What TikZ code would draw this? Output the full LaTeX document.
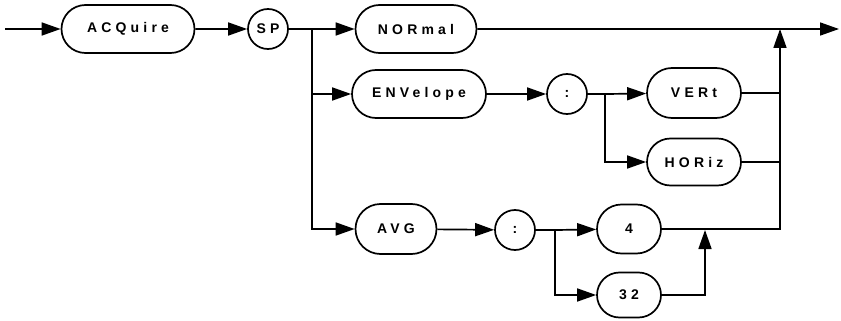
\documentclass[tikz,border=0pt]{standalone}
\usepackage{fontspec}
\newfontfamily\hpfont[LetterSpace=30]{Liberation Sans}
\usetikzlibrary{arrows.meta,shapes.misc}

\begin{document}
\begin{tikzpicture}[
    x=1pt, y=-1pt,
    line width=1.7pt,
    font=\hpfont\bfseries\fontsize{14}{16}\selectfont,
    kw/.style={draw, rounded rectangle, minimum height=48pt, inner sep=2pt},
    sep/.style={draw, circle, minimum size=40pt, inner sep=0pt},
    arr/.style={-{Triangle[length=19pt, width=13pt]}}
]
\useasboundingbox (0,0) rectangle (841,321);
% keywords
\node[kw, minimum width=137pt] (acq) at (128,29) {ACQuire};
\node[sep] (sp) at (268,29) {SP};
\node[kw, minimum width=125pt] (nor) at (416,29) {NORmal};
\node[kw, minimum width=138pt] (env) at (419,94) {ENVelope};
\node[sep] (colenv) at (567,94) {:};
\node[kw, minimum width=98pt, minimum height=50pt] (vert) at (694,93) {VERt};
\node[kw, minimum width=98pt, minimum height=47pt] (hor) at (694,162) {HORiz};
\node[kw, minimum width=85pt, minimum height=50pt] (avg) at (396,229) {AVG};
\node[sep] (colavg) at (515,230) {:};
\node[kw, minimum width=68pt, minimum height=49pt] (four) at (629,229) {4};
\node[kw, minimum width=68pt, minimum height=45pt] (tt) at (629,295) {32};

% branch points
\coordinate (start) at (5,29);
\coordinate (end) at (839,29);
\coordinate (brsp) at (312,29);
\coordinate (brenv) at (605,94);
\coordinate (bravg) at (555,230);
\coordinate (joinall) at (780,29);
\coordinate (joinavg) at (705,230);

\draw[arr] (start) -- (acq);
\draw[arr] (acq) -- (sp);
\draw (sp) -- (brsp);
\draw[arr] (brsp) -- (nor);
\draw[arr] (brsp) |- (env);
\draw[arr] (brsp) |- (avg);
\draw[arr] (nor) -- (end);
\draw[arr] (env) -- (colenv);
\draw (colenv) -- (brenv);
\draw[arr] (brenv) -- (vert);
\draw[arr] (brenv) |- (hor);
\draw (vert) -- (vert -| joinall);
\draw (hor) -- (hor -| joinall);
\draw[arr] (avg) -- (colavg);
\draw (colavg) -- (bravg);
\draw[arr] (bravg) -- (four);
\draw[arr] (bravg) |- (tt);
\draw[arr] (tt) -| (joinavg);
\draw[arr] (four.east) -- (four.east -| joinall) -- (joinall);
\end{tikzpicture}
\end{document}
